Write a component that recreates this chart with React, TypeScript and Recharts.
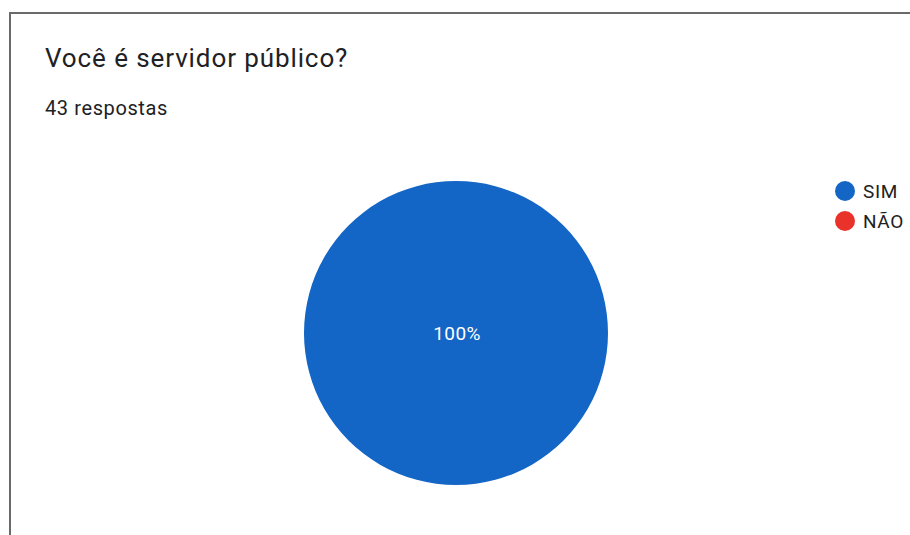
import React from 'react';
import { PieChart, Pie, Cell, Legend } from 'recharts';

const categories = ['SIM', 'NÃO'];
const counts = [43, 0];
const colors = ['#1366c6', '#e8322a'];
const title = 'Você é servidor público?';
const subtitle = '43 respostas';

const data = categories.map((name, i) => ({ name, value: counts[i] }));

const renderLabel = ({ cx, cy, percent }: any) => {
  if (!percent) return null;
  return (
    <text x={cx + 1} y={cy} fill="#ffffff" textAnchor="middle" dominantBaseline="central" fontSize={19} letterSpacing={0.4} fontFamily="Roboto, sans-serif">
      {`${Math.round(percent * 100)}%`}
    </text>
  );
};

const renderLegend = ({ payload }: any) => (
  <div style={{ fontFamily: 'Roboto, sans-serif', fontSize: 19, letterSpacing: 0.6, color: '#212121' }}>
    {(payload || []).map((entry: any) => (
      <div key={entry.value} style={{ display: 'flex', alignItems: 'center', height: 30 }}>
        <span style={{ width: 20, height: 20, borderRadius: '50%', background: entry.color, marginRight: 8, flexShrink: 0 }} />
        <span style={{ whiteSpace: 'nowrap' }}>{entry.value}</span>
      </div>
    ))}
  </div>
);

export default function App() {
  return (
    <div style={{ position: 'absolute', left: 0, top: 0, width: 910, height: 535, overflow: 'hidden', background: '#fff' }}>
      <div style={{ position: 'absolute', left: 9, top: 12, width: 1000, height: 700, border: '2px solid #6a6a6a' }} />
      <div style={{ position: 'absolute', left: 45, top: 43, fontFamily: 'Roboto, sans-serif', fontSize: 26, letterSpacing: 0.9, color: '#202124', whiteSpace: 'nowrap' }}>
        {title}
      </div>
      <div style={{ position: 'absolute', left: 45, top: 96, fontFamily: 'Roboto, sans-serif', fontSize: 20, letterSpacing: 0.6, color: '#202124', whiteSpace: 'nowrap' }}>
        {subtitle}
      </div>
      <div style={{ position: 'absolute', left: 0, top: 0 }}>
        <PieChart width={910} height={535} margin={{ top: 0, right: 0, bottom: 0, left: 0 }}>
          <Pie
            data={data}
            dataKey="value"
            nameKey="name"
            cx={456}
            cy={333}
            outerRadius={152}
            startAngle={90}
            endAngle={-270}
            stroke="none"
            label={renderLabel}
            labelLine={false}
            isAnimationActive={false}
          >
            {data.map((d, i) => (
              <Cell key={d.name} fill={colors[i]} />
            ))}
          </Pie>
          <Legend
            layout="vertical"
            verticalAlign="top"
            align="right"
            itemSorter={(item: any) => categories.indexOf(item.value)}
            wrapperStyle={{ left: 835, right: 'auto', top: 176, width: 120 }}
            content={renderLegend}
          />
        </PieChart>
      </div>
    </div>
  );
}
